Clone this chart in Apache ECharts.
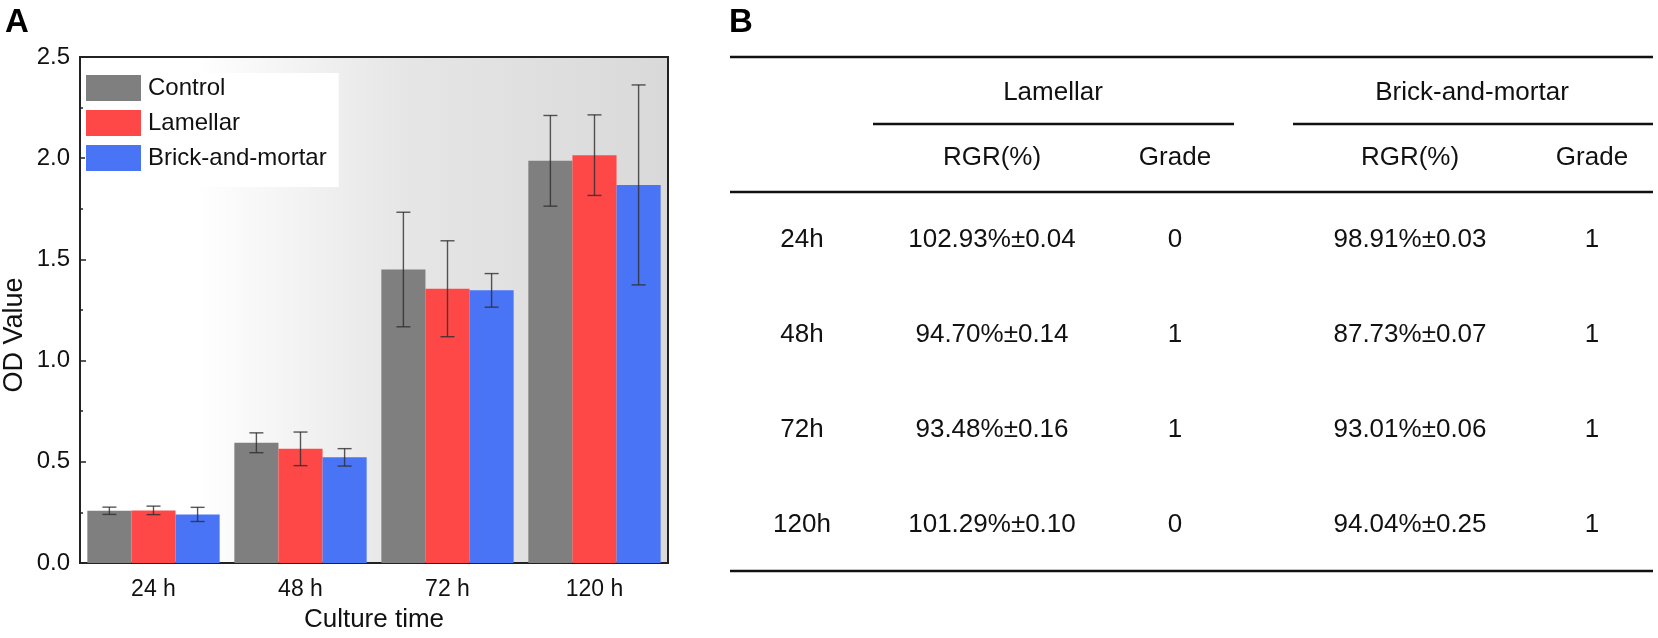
<!DOCTYPE html>
<html>
<head>
<meta charset="utf-8">
<script src="https://cdn.jsdelivr.net/npm/echarts@6/dist/echarts.min.js"></script>
<style>
html,body{margin:0;padding:0;background:#fff;}
#chart{width:1658px;height:638px;}
</style>
</head>
<body>
<div id="chart"></div>
<script>
// ---- Panel A data ----
const categories = ['24 h', '48 h', '72 h', '120 h'];
const seriesNames = ['Control', 'Lamellar', 'Brick-and-mortar'];
const controlMean = [0.258, 0.594, 1.450, 1.987];
const controlErr = [0.018, 0.049, 0.283, 0.224];
const lamellarMean = [0.260, 0.564, 1.355, 2.015];
const lamellarErr = [0.021, 0.083, 0.237, 0.199];
const brickMean = [0.240, 0.522, 1.347, 1.868];
const brickErr = [0.035, 0.043, 0.083, 0.494];
const yTicks = [0, 0.5, 1.0, 1.5, 2.0, 2.5];

// ---- Panel B data ----
const tableRows = ['24h', '48h', '72h', '120h'];
const tableGroups = ['Lamellar', 'Brick-and-mortar'];
const tableSubHeaders = ['RGR(%)', 'Grade', 'RGR(%)', 'Grade'];
const lamellarRGR = ['102.93%\u00b10.04', '94.70%\u00b10.14', '93.48%\u00b10.16', '101.29%\u00b10.10'];
const lamellarGrade = ['0', '1', '1', '0'];
const brickRGR = ['98.91%\u00b10.03', '87.73%\u00b10.07', '93.01%\u00b10.06', '94.04%\u00b10.25'];
const brickGrade = ['1', '1', '1', '1'];

const FONT = '"Liberation Sans", Arial, sans-serif';
const colors = ['#7f7f7f', '#fe4848', '#4a74f6'];
const means = [controlMean, lamellarMean, brickMean];
const errs = [controlErr, lamellarErr, brickErr];
const CAT_GAP = 0.10;

const chart = echarts.init(document.getElementById('chart'));

const barSeries = seriesNames.map((name, s) => ({
  name: name,
  type: 'bar',
  data: means[s],
  barGap: '0%',
  barCategoryGap: (CAT_GAP * 100) + '%',
  itemStyle: { color: colors[s] },
  z: 2
}));

const errSeries = seriesNames.map((name, s) => ({
  name: name + ' error',
  type: 'custom',
  z: 5,
  silent: true,
  data: means[s].map((m, i) => [i, m, errs[s][i]]),
  encode: { x: 0, y: 1 },
  renderItem: function (params, api) {
    const i = api.value(0);
    const m = api.value(1);
    const e = api.value(2);
    const band = api.size([1, 0])[0];
    const bw = band * (1 - CAT_GAP) / 3;
    const cx = api.coord([i, m])[0] + (s - 1) * bw;
    const yt = api.coord([i, m + e])[1];
    const yb = api.coord([i, m - e])[1];
    const cap = 7;
    const st = { stroke: 'rgba(45,45,45,0.8)', lineWidth: 1.4 };
    return {
      type: 'group',
      children: [
        { type: 'line', shape: { x1: cx, y1: yt, x2: cx, y2: yb }, style: st },
        { type: 'line', shape: { x1: cx - cap, y1: yt, x2: cx + cap, y2: yt }, style: st },
        { type: 'line', shape: { x1: cx - cap, y1: yb, x2: cx + cap, y2: yb }, style: st }
      ]
    };
  }
}));

// ---- Table graphics ----
const graphics = [];
graphics.push({ type: 'text', left: 5, top: 6, style: { text: 'A', font: 'bold 33px ' + FONT, fill: '#000' } });
graphics.push({ type: 'text', left: 729, top: 6, style: { text: 'B', font: 'bold 33px ' + FONT, fill: '#000' } });

function hline(x1, x2, y) {
  graphics.push({ type: 'line', shape: { x1: x1, y1: y, x2: x2, y2: y }, style: { stroke: '#111', lineWidth: 2.5 } });
}
function ctext(str, x, y) {
  graphics.push({ type: 'text', x: x, y: y, style: { text: str, font: '26px ' + FONT, fill: '#111', align: 'center', verticalAlign: 'middle' } });
}
const tLeft = 730, tRight = 1653;
hline(tLeft, tRight, 57);
hline(873, 1234, 124);
hline(1293, tRight, 124);
hline(tLeft, tRight, 192);
hline(tLeft, tRight, 571);

const colX = [802, 992, 1175, 1410, 1592];
const groupX = [1053, 1472];
const rowY = [240, 335, 430, 525];
tableGroups.forEach((g, k) => ctext(g, groupX[k], 93));
tableSubHeaders.forEach((h, k) => ctext(h, colX[k + 1], 158));
tableRows.forEach((r, i) => {
  ctext(r, colX[0], rowY[i]);
  ctext(lamellarRGR[i], colX[1], rowY[i]);
  ctext(lamellarGrade[i], colX[2], rowY[i]);
  ctext(brickRGR[i], colX[3], rowY[i]);
  ctext(brickGrade[i], colX[4], rowY[i]);
});

const option = {
  animation: false,
  backgroundColor: '#fff',
  textStyle: { fontFamily: FONT },
  grid: {
    left: 77, right: 990, top: 57, bottom: 66,
    show: true,
    borderColor: '#222',
    borderWidth: 2,
    backgroundColor: new echarts.graphic.LinearGradient(0, 0, 1, 0, [
      { offset: 0, color: '#ffffff' },
      { offset: 0.2, color: '#ffffff' },
      { offset: 0.55, color: '#e6e6e6' },
      { offset: 1, color: '#d9d9d9' }
    ])
  },
  legend: {
    data: seriesNames,
    orient: 'vertical',
    left: 85, top: 73,
    padding: [2, 12, 16, 1],
    backgroundColor: '#fff',
    itemWidth: 55, itemHeight: 26, itemGap: 9,
    icon: 'rect',
    textStyle: { fontSize: 24, color: '#111', fontFamily: FONT, padding: [0, 0, 0, 2] },
    selectedMode: false
  },
  xAxis: {
    type: 'category',
    data: categories,
    name: 'Culture time',
    nameLocation: 'middle',
    nameGap: 44,
    nameTextStyle: { fontSize: 26, color: '#111', fontFamily: FONT },
    axisLine: { lineStyle: { color: '#222', width: 2 } },
    axisTick: { show: false },
    axisLabel: { fontSize: 23, color: '#111', margin: 15, fontFamily: FONT }
  },
  yAxis: {
    type: 'value',
    min: 0, max: 2.5, interval: 0.5,
    name: 'OD Value',
    nameLocation: 'middle',
    nameGap: 52,
    nameTextStyle: { fontSize: 27, color: '#111', fontFamily: FONT, padding: [0, 50, 0, 0] },
    axisLine: { show: true, lineStyle: { color: '#222', width: 2 } },
    axisTick: { show: true, inside: true, length: 6, lineStyle: { color: '#222', width: 1.5 } },
    minorTick: { show: true, splitNumber: 2, length: 3, lineStyle: { color: '#222', width: 1.5 } },
    splitLine: { show: false },
    axisLabel: {
      fontSize: 24, color: '#111', margin: 10, fontFamily: FONT,
      formatter: v => yTicks.indexOf(v) >= 0 ? v.toFixed(1) : ''
    }
  },
  series: barSeries.concat(errSeries),
  graphic: graphics
};
chart.setOption(option);
</script>
</body>
</html>
